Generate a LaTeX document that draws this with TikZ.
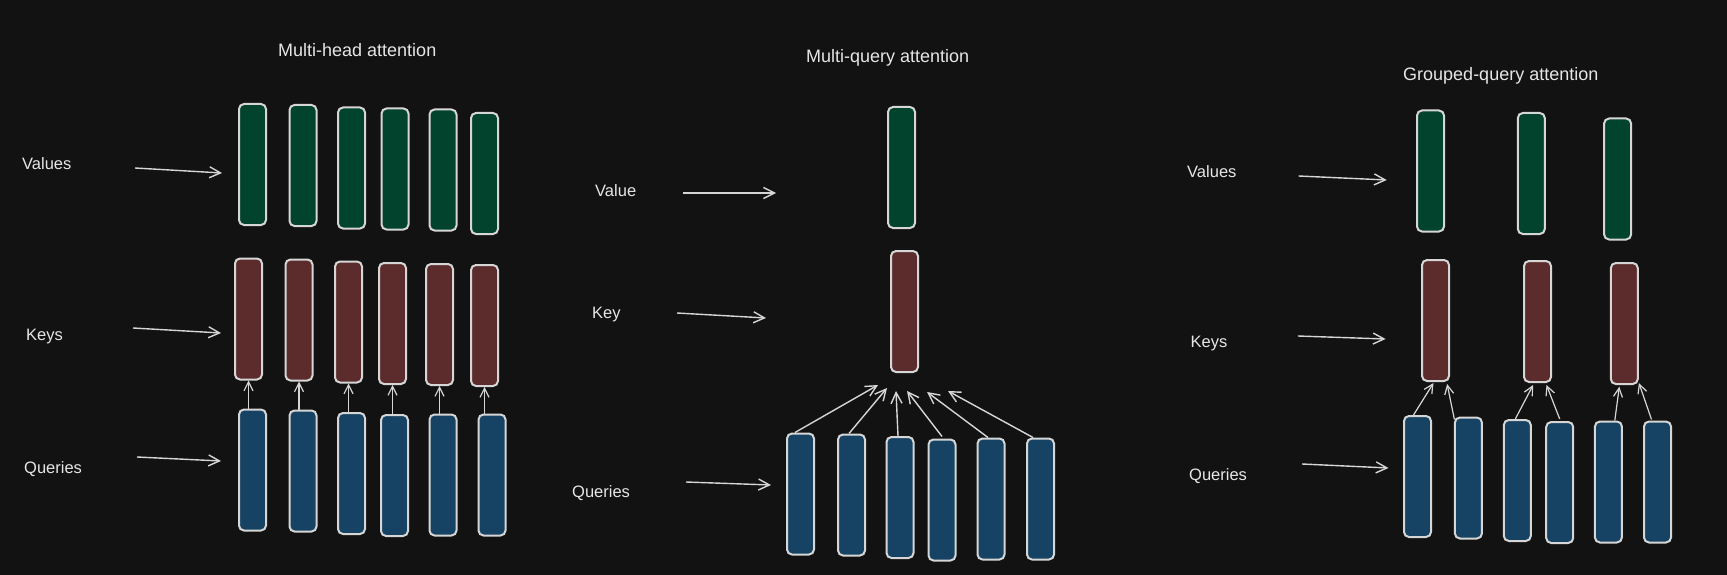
\documentclass[tikz,border=0pt]{standalone}
\usepackage{fontspec}
\setmainfont{Liberation Sans}
\usetikzlibrary{arrows.meta,calc}
\definecolor{bgc}{HTML}{121212}
\definecolor{edgec}{HTML}{D6D6D6}
\definecolor{txtc}{HTML}{E6E6E6}
\definecolor{vgreen}{HTML}{02432E}
\definecolor{kred}{HTML}{5C2C2D}
\definecolor{qblue}{HTML}{164263}
\tikzset{
  bx/.style={draw=edgec, line width=2pt, rounded corners=5pt, minimum width=27pt, minimum height=121pt, inner sep=0pt},
  vbox/.style={bx, fill=vgreen},
  kbox/.style={bx, fill=kred},
  qbox/.style={bx, fill=qblue},
  lbl/.style={text=txtc, font=\fontsize{16.5}{19}\selectfont, anchor=base west, inner sep=0pt},
  ttl/.style={text=txtc, font=\fontsize{18}{21}\selectfont, anchor=base west, inner sep=0pt},
  arr/.style={draw=edgec, line width=1.4pt, -{Straight Barb[length=11pt,width=11pt,line width=1.4pt]}},
  sarr/.style={draw=edgec, line width=1.2pt, -{Straight Barb[length=9pt,width=9pt,line width=1.2pt]}}
}
\begin{document}
\begin{tikzpicture}[x=1pt,y=-1pt]
\fill[bgc] (0,0) rectangle (1727,575);
\useasboundingbox (0,0) rectangle (1727,575);

% ---------- Panel 1: Multi-head attention ----------
\node[ttl] (t1) at (278,57) {Multi-head attention};
\node[lbl] (lv1) at (22,170) {Values};
\node[lbl] (lk1) at (26,340) {Keys};
\node[lbl] (lq1) at (24,473) {Queries};

\node[vbox] (av1) at (252.5,164.5) {};
\node[vbox] (av2) at (303,165.5) {};
\node[vbox] (av3) at (351.5,168) {};
\node[vbox] (av4) at (395,169) {};
\node[vbox] (av5) at (443,170) {};
\node[vbox] (av6) at (484.5,173.5) {};

\node[kbox] (ak1) at (248.5,319) {};
\node[kbox] (ak2) at (299,320) {};
\node[kbox] (ak3) at (348.5,322) {};
\node[kbox] (ak4) at (392.5,323.5) {};
\node[kbox] (ak5) at (439.5,324.5) {};
\node[kbox] (ak6) at (484.5,325.5) {};

\node[qbox] (aq1) at (252.5,470) {};
\node[qbox] (aq2) at (303,471) {};
\node[qbox] (aq3) at (351.5,473.5) {};
\node[qbox] (aq4) at (394.5,475.5) {};
\node[qbox] (aq5) at (443,475) {};
\node[qbox] (aq6) at (492,475) {};

\foreach \i in {1,...,6}{
  \draw[sarr] (ak\i.south |- aq\i.north) -- (ak\i.south);
}

\coordinate (avs) at (135,168); \coordinate (ave) at (222,173);
\coordinate (aks) at (133,328); \coordinate (ake) at (221,333);
\coordinate (aqs) at (137,457); \coordinate (aqe) at (221,461);
\draw[arr] (avs) -- (ave);
\draw[arr] (aks) -- (ake);
\draw[arr] (aqs) -- (aqe);

% ---------- Panel 2: Multi-query attention ----------
\node[ttl] (t2) at (806,63) {Multi-query attention};
\node[lbl] (lv2) at (595,196) {Value};
\node[lbl] (lk2) at (592,318) {Key};
\node[lbl] (lq2) at (572,497) {Queries};

\node[vbox] (bv) at (901.5,167.5) {};
\node[kbox] (bk) at (904.5,311.5) {};

\node[qbox] (bq1) at (800.5,494) {};
\node[qbox] (bq2) at (851.5,495) {};
\node[qbox] (bq3) at (900,497.5) {};
\node[qbox] (bq4) at (942,500) {};
\node[qbox] (bq5) at (991,499) {};
\node[qbox] (bq6) at (1040.5,499) {};

\draw[arr] ($(bq1.north)+(-5.5,0)$) -- ($(bk.south)+(-26.5,12)$);
\draw[arr] ($(bq2.north)+(-2.5,0)$) -- ($(bk.south)+(-17.5,15)$);
\draw[arr] ($(bq3.north)+(-2,0)$) -- ($(bk.south)+(-8.5,18)$);
\draw[arr] ($(bq4.north)+(0,-2)$) -- ($(bk.south)+(2.5,18)$);
\draw[arr] ($(bq5.north)+(-3,0)$) -- ($(bk.south)+(22.5,19)$);
\draw[arr] ($(bq6.north)+(-7.5,0)$) -- ($(bk.south)+(43.5,18)$);

\coordinate (bvs) at (683,193); \coordinate (bve) at (776,193);
\coordinate (bks) at (677,313); \coordinate (bke) at (766,318);
\coordinate (bqs) at (686,482); \coordinate (bqe) at (771,485);
\draw[arr] (bvs) -- (bve);
\draw[arr] (bks) -- (bke);
\draw[arr] (bqs) -- (bqe);

% ---------- Panel 3: Grouped-query attention ----------
\node[ttl] (t3) at (1403,81) {Grouped-query attention};
\node[lbl] (lv3) at (1187,177) {Values};
\node[lbl] (lk3) at (1190.5,347) {Keys};
\node[lbl] (lq3) at (1189,480) {Queries};

\node[vbox] (cv1) at (1430.5,171) {};
\node[vbox] (cv2) at (1531.3,173.5) {};
\node[vbox] (cv3) at (1617.6,179) {};

\node[kbox] (ck1) at (1435.5,320.5) {};
\node[kbox] (ck2) at (1537.5,321.5) {};
\node[kbox] (ck3) at (1624.3,323.5) {};

\node[qbox] (cq1) at (1417.5,476.5) {};
\node[qbox] (cq2) at (1468.4,478) {};
\node[qbox] (cq3) at (1517.3,480.5) {};
\node[qbox] (cq4) at (1559.7,482.5) {};
\node[qbox] (cq5) at (1608.4,482) {};
\node[qbox] (cq6) at (1657.5,482) {};

\draw[sarr] ($(cq1.north)+(-4,0)$) -- ($(ck1.south)+(-2,1)$);
\draw[sarr] ($(cq2.north)+(-14,3)$) -- ($(ck1.south)+(11.6,2)$);
\draw[sarr] ($(cq3.north)+(-2,0)$) -- ($(ck2.south)+(-4.4,2)$);
\draw[sarr] ($(cq4.north)+(0,-2)$) -- ($(ck2.south)+(9,2)$);
\draw[sarr] ($(cq5.north)+(6.4,0)$) -- ($(ck3.south)+(-5,1.7)$);
\draw[sarr] ($(cq6.north)+(-6,-1)$) -- ($(ck3.south)+(14.6,-2)$);

\coordinate (cvs) at (1298.6,176); \coordinate (cve) at (1386.7,180);
\coordinate (cks) at (1297.9,336); \coordinate (cke) at (1385.6,339);
\coordinate (cqs) at (1302.1,464); \coordinate (cqe) at (1388.5,468);
\draw[arr] (cvs) -- (cve);
\draw[arr] (cks) -- (cke);
\draw[arr] (cqs) -- (cqe);
\end{tikzpicture}
\end{document}
